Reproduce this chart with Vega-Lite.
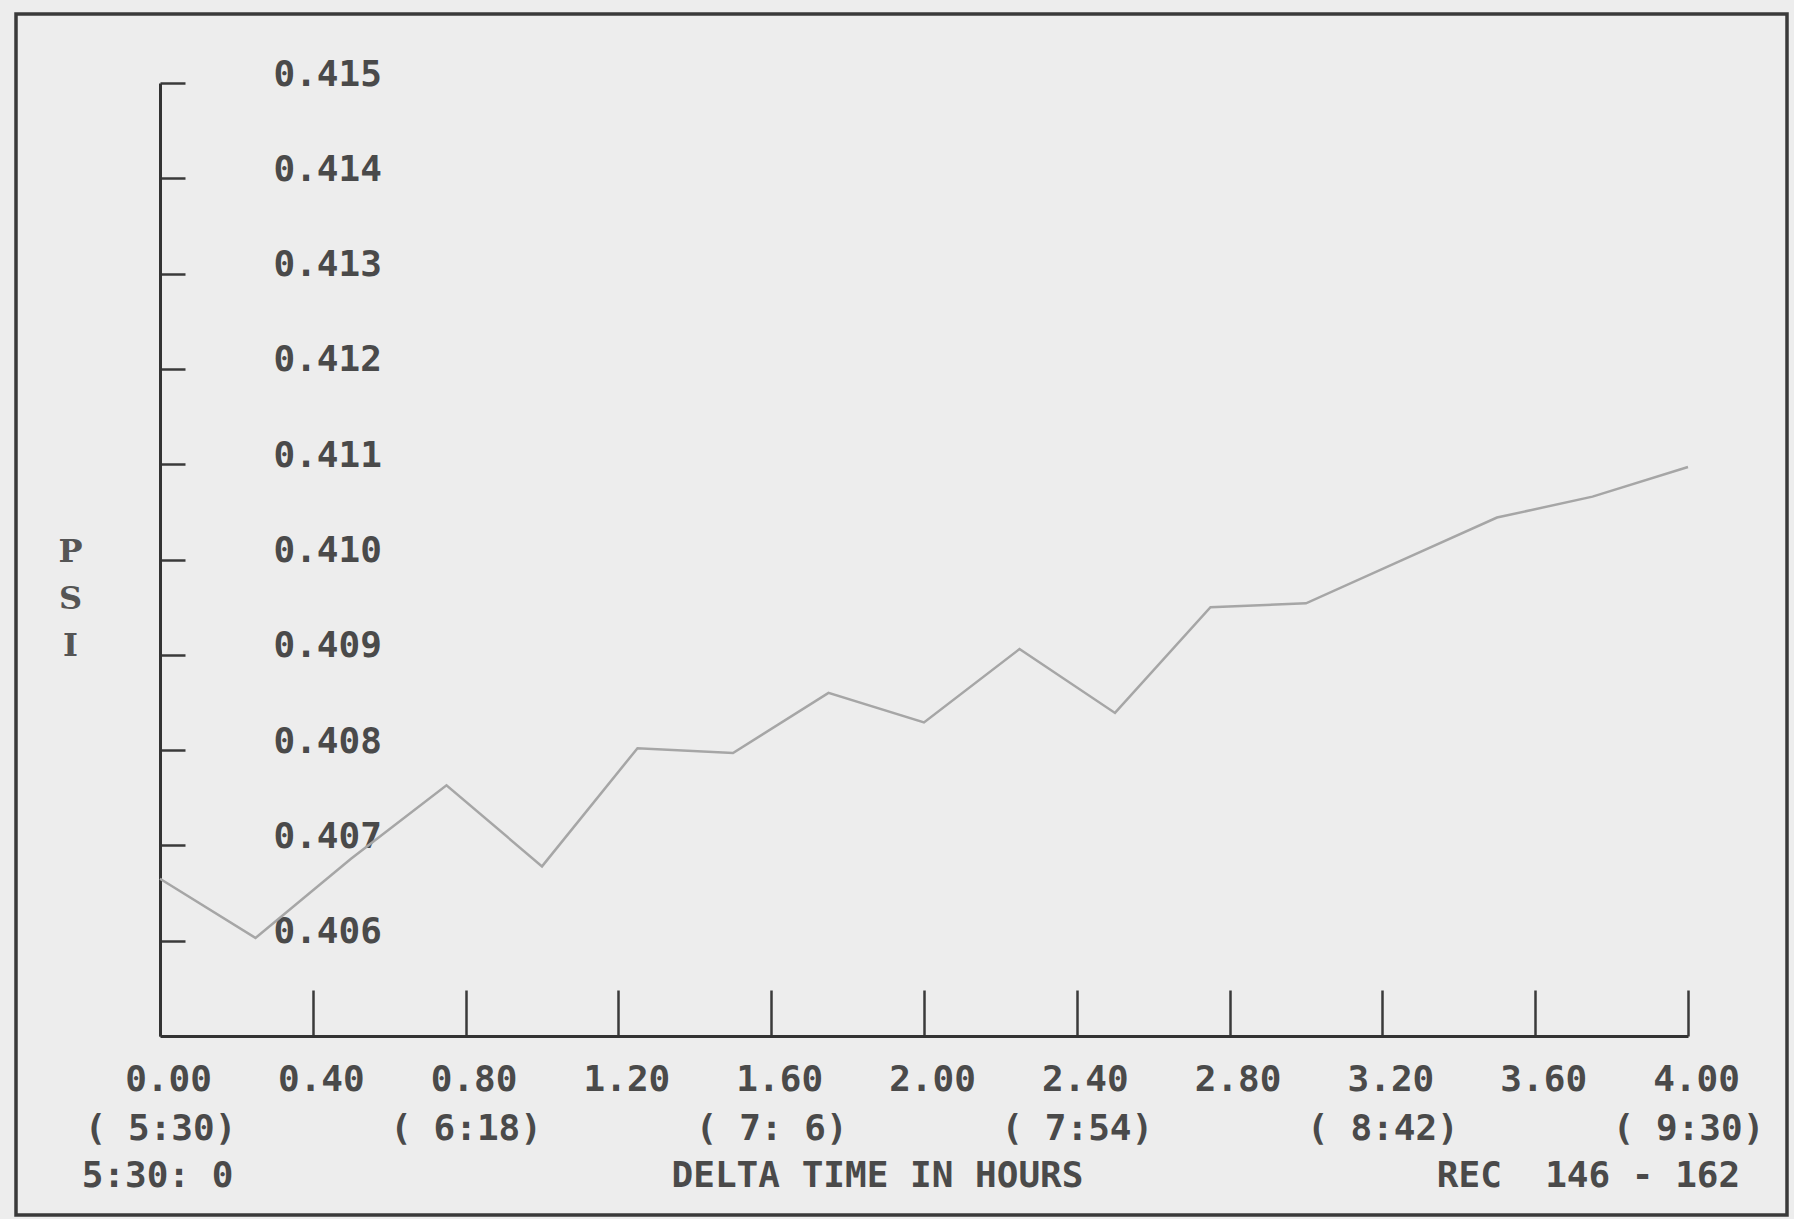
{
  "$schema": "https://vega.github.io/schema/vega-lite/v6.json",
  "width": 1771,
  "height": 1201,
  "autosize": {"type": "none"},
  "padding": {"left": 16, "top": 14, "right": 7, "bottom": 4},
  "background": "#ededed",
  "data": {
    "values": [
      {"hours": 0.00, "psi": 0.40665},
      {"hours": 0.25, "psi": 0.40603},
      {"hours": 0.50, "psi": 0.40686},
      {"hours": 0.75, "psi": 0.40763},
      {"hours": 1.00, "psi": 0.40678},
      {"hours": 1.25, "psi": 0.40802},
      {"hours": 1.50, "psi": 0.40797},
      {"hours": 1.75, "psi": 0.40860},
      {"hours": 2.00, "psi": 0.40829},
      {"hours": 2.25, "psi": 0.40906},
      {"hours": 2.50, "psi": 0.40839},
      {"hours": 2.75, "psi": 0.40950},
      {"hours": 3.00, "psi": 0.40954},
      {"hours": 3.25, "psi": 0.40999},
      {"hours": 3.50, "psi": 0.41044},
      {"hours": 3.75, "psi": 0.41066},
      {"hours": 4.00, "psi": 0.41097}
    ]
  },
  "resolve": {"axis": {"x": "independent"}},
  "layer": [
    {
      "mark": {"type": "line", "color": "#a6a6a6", "strokeWidth": 2.5},
      "encoding": {
        "x": {
          "field": "hours", "type": "quantitative",
          "scale": {"domain": [0, 4], "range": [144, 1672], "nice": false, "zero": false},
          "axis": {
            "orient": "bottom",
            "values": [0, 0.4, 0.8, 1.2, 1.6, 2.0, 2.4, 2.8, 3.2, 3.6, 4.0],
            "format": ".2f",
            "title": null,
            "offset": -179,
            "domainColor": "#333333", "domainWidth": 3,
            "tickColor": "#3a3a3a", "tickWidth": 2.5, "tickSize": -46,
            "labelPadding": 89, "labelBaseline": "middle", "labelAlign": "center", "labelOffset": 8,
            "labelFont": "DejaVu Sans Mono", "labelFontSize": 36, "labelFontWeight": "bold", "labelColor": "#4a4a4a"
          }
        },
        "y": {
          "field": "psi", "type": "quantitative",
          "scale": {"domain": [0.405, 0.415], "range": [1022, 69], "nice": false, "zero": false},
          "axis": {
            "orient": "left",
            "values": [0.406, 0.407, 0.408, 0.409, 0.410, 0.411, 0.412, 0.413, 0.414, 0.415],
            "format": ".3f",
            "offset": -144,
            "domainColor": "#333333", "domainWidth": 3,
            "tickColor": "#3a3a3a", "tickWidth": 2.5, "tickSize": -25,
            "labelPadding": -88, "labelAlign": "left", "labelBaseline": "middle", "labelOffset": -9,
            "labelFont": "DejaVu Sans Mono", "labelFontSize": 36, "labelFontWeight": "bold", "labelColor": "#4a4a4a",
            "title": ["P", "S", "I"],
            "titleAngle": 0, "titleX": -90, "titleY": 537, "titleAlign": "center", "titleBaseline": "middle",
            "titleLineHeight": 47, "titleFont": "DejaVu Serif", "titleFontSize": 32, "titleFontWeight": "bold", "titleColor": "#555555"
          }
        }
      }
    },
    {
      "mark": {"type": "point", "opacity": 0},
      "encoding": {
        "x": {
          "field": "hours", "type": "quantitative",
          "scale": {"domain": [0, 4], "range": [144, 1672], "nice": false, "zero": false},
          "axis": {
            "orient": "bottom",
            "values": [0, 0.8, 1.6, 2.4, 3.2, 4.0],
            "labelExpr": "datum.value < 0.4 ? '( 5:30)' : datum.value < 1.2 ? '( 6:18)' : datum.value < 2.0 ? '( 7: 6)' : datum.value < 2.8 ? '( 7:54)' : datum.value < 3.6 ? '( 8:42)' : '( 9:30)'",
            "offset": -179,
            "domain": false, "ticks": false,
            "labelPadding": 92, "labelBaseline": "middle", "labelAlign": "center", "labelOffset": 0,
            "labelFont": "DejaVu Sans Mono", "labelFontSize": 36, "labelFontWeight": "bold", "labelColor": "#4a4a4a",
            "title": "DELTA TIME IN HOURS",
            "titleX": 861, "titleY": 139, "titleAlign": "center", "titleBaseline": "middle",
            "titleFont": "DejaVu Sans Mono", "titleFontSize": 36, "titleFontWeight": "bold", "titleColor": "#4a4a4a"
          }
        }
      }
    },
    {
      "mark": {"type": "point", "opacity": 0},
      "encoding": {
        "x": {
          "field": "hours", "type": "quantitative",
          "scale": {"domain": [0, 4], "range": [144, 1672], "nice": false, "zero": false},
          "axis": {
            "orient": "bottom",
            "values": [0],
            "labelExpr": "'5:30: 0'",
            "offset": -179,
            "domain": false, "ticks": false,
            "labelPadding": 139, "labelBaseline": "middle", "labelAlign": "center", "labelOffset": -3,
            "labelFont": "DejaVu Sans Mono", "labelFontSize": 36, "labelFontWeight": "bold", "labelColor": "#4a4a4a",
            "title": "REC\u00a0 146 - 162",
            "titleX": 1572, "titleY": 139, "titleAlign": "center", "titleBaseline": "middle",
            "titleFont": "DejaVu Sans Mono", "titleFontSize": 36, "titleFontWeight": "bold", "titleColor": "#4a4a4a"
          }
        }
      }
    }
  ],
  "config": {
    "view": {"stroke": "#3a3a3a", "strokeWidth": 3.5, "fill": null},
    "axis": {"labelFlush": false, "labelOverlap": false, "labelBound": false, "grid": false}
  }
}
